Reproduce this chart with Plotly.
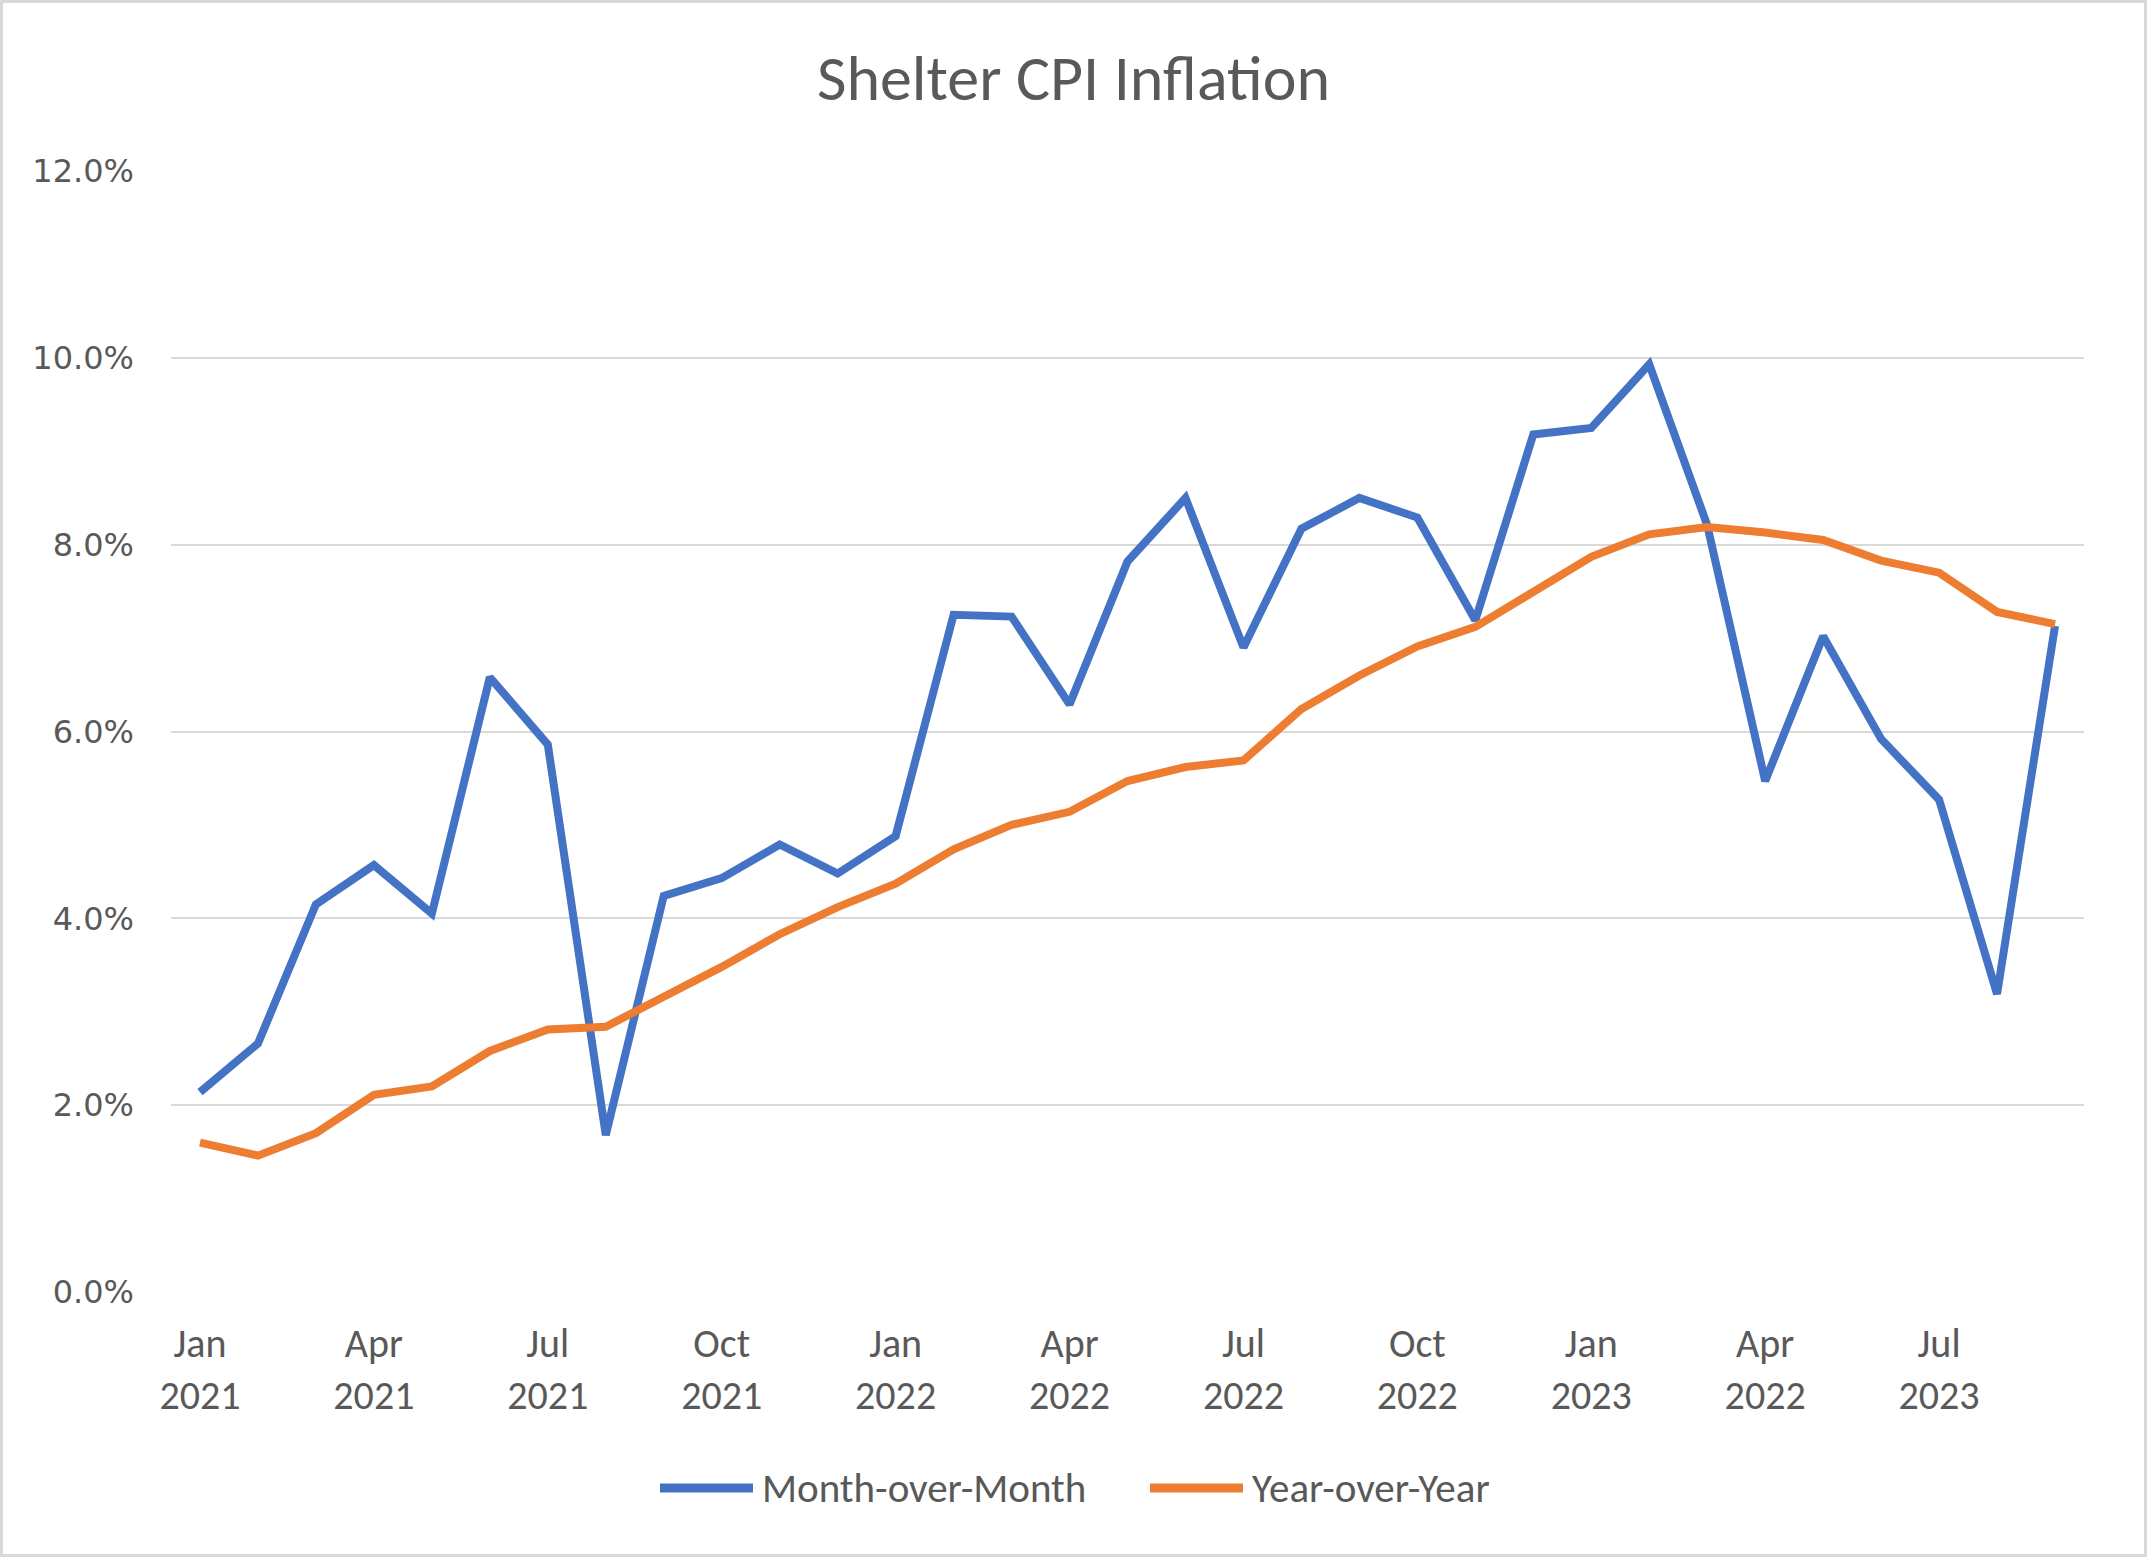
import plotly.graph_objects as go

months = ["Jan", "Feb", "Mar", "Apr", "May", "Jun", "Jul", "Aug", "Sep", "Oct", "Nov", "Dec"]
categories = [f"{m} {y}" for y in (2021, 2022, 2023) for m in months][:33]

mom = [2.14, 2.66, 4.15, 4.57, 4.05, 6.58, 5.86, 1.68, 4.24, 4.43, 4.79, 4.48,
       4.88, 7.25, 7.23, 6.29, 7.82, 8.50, 6.90, 8.17, 8.50, 8.29, 7.19, 9.18,
       9.25, 9.93, 8.21, 5.47, 7.02, 5.92, 5.27, 3.19, 7.13]
yoy = [1.60, 1.46, 1.70, 2.11, 2.20, 2.58, 2.81, 2.84, 3.16, 3.48, 3.83, 4.12,
       4.37, 4.74, 5.00, 5.14, 5.47, 5.62, 5.69, 6.24, 6.60, 6.91, 7.12, 7.50,
       7.87, 8.11, 8.19, 8.13, 8.05, 7.83, 7.70, 7.28, 7.15]

series_names = ["Month-over-Month", "Year-over-Year"]
series_colors = ["#4472C4", "#ED7D31"]

tick_vals = ["Jan 2021", "Apr 2021", "Jul 2021", "Oct 2021", "Jan 2022", "Apr 2022",
             "Jul 2022", "Oct 2022", "Jan 2023", "Apr 2023", "Jul 2023"]
tick_text = ["Jan<br>2021", "Apr<br>2021", "Jul<br>2021", "Oct<br>2021", "Jan<br>2022",
             "Apr<br>2022", "Jul<br>2022", "Oct<br>2022", "Jan<br>2023", "Apr<br>2022",
             "Jul<br>2023"]

W, H = 2147, 1557
L, R, T, B = 171, 63, 171, 265
PW, PH = W - L - R, H - T - B
TEXT = "#595959"
FONT = "Carlito, Lato, 'Noto Sans', sans-serif"


def px_x(px):
    return (px - L) / PW


def px_y(py):
    return (H - B - py) / PH


fig = go.Figure()
for name, vals, col in zip(series_names, [mom, yoy], series_colors):
    fig.add_trace(go.Scatter(x=categories, y=vals, mode="lines", name=name,
                             line=dict(color=col, width=8, shape="linear"),
                             showlegend=False))

# Legend drawn in Excel style (long line swatch + label)
legend_y = 1488
legend_items = [(660, 753, 760), (1150, 1243, 1250)]
shapes = [dict(type="rect", xref="paper", yref="paper",
               x0=px_x(1.5), x1=px_x(W - 1.5), y0=px_y(H - 1.5), y1=px_y(1.5),
               line=dict(color="#D9D9D9", width=3), fillcolor="rgba(0,0,0,0)", layer="below")]
annotations = []
for (x0, x1, xt), name, col in zip(legend_items, series_names, series_colors):
    shapes.append(dict(type="line", xref="paper", yref="paper",
                       x0=px_x(x0), x1=px_x(x1), y0=px_y(legend_y), y1=px_y(legend_y),
                       line=dict(color=col, width=9)))
    annotations.append(dict(text=name, xref="paper", yref="paper", x=px_x(xt), y=px_y(legend_y),
                            xanchor="left", yanchor="middle", showarrow=False,
                            font=dict(family=FONT, size=41, color=TEXT)))

fig.update_layout(
    width=W, height=H,
    margin=dict(l=L, r=R, t=T, b=B),
    paper_bgcolor="white", plot_bgcolor="white",
    title=dict(text="Shelter CPI Inflation", x=0.5, xanchor="center", xref="container",
               y=1 - 78 / H, yanchor="middle", yref="container",
               font=dict(family=FONT, size=64, color=TEXT)),
    showlegend=False,
    xaxis=dict(type="category", categoryorder="array", categoryarray=categories,
               range=[-0.5, 32.5], tickmode="array", tickvals=tick_vals, ticktext=tick_text,
               showgrid=False, zeroline=False, showline=False, ticks="",
               ticklabelstandoff=24,
               tickfont=dict(family=FONT, size=40, color=TEXT)),
    yaxis=dict(range=[0, 12], tickmode="linear", tick0=0, dtick=2, tickformat=".1f",
               ticksuffix="%", showgrid=True, gridcolor="#D9D9D9", gridwidth=2,
               zeroline=False, showline=False, ticks="", ticklabelstandoff=36,
               tickfont=dict(family="DejaVu Sans", size=32, color=TEXT)),
    shapes=shapes,
    annotations=annotations,
)

fig.write_html("out.html", config={"displayModeBar": False},
               post_script="document.body.style.margin='0';document.body.style.overflow='hidden';")
